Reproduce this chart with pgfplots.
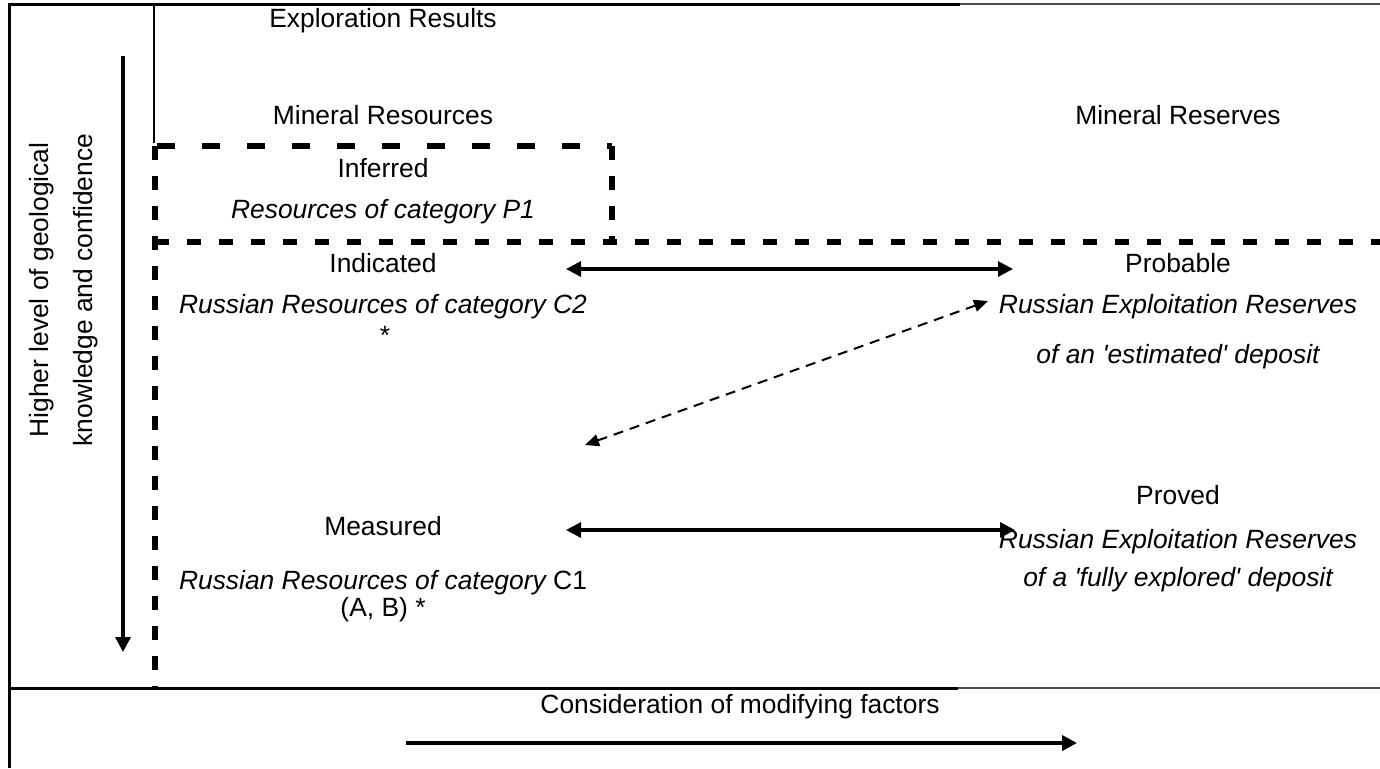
\documentclass[border=0pt]{standalone}
\usepackage{pgfplots}
\pgfplotsset{compat=1.18}
\usepackage{fontspec}
\setmainfont{Liberation Sans}[Ligatures=TeXOff]
\usetikzlibrary{arrows.meta}
\begin{document}
\fontsize{13.2}{15}\selectfont
\begin{tikzpicture}[font=\fontsize{13.2}{15}\selectfont]
\begin{axis}[
  width=690pt, height=384pt, scale only axis,
  xmin=0, xmax=1380, ymin=0, ymax=768, y dir=reverse,
  hide axis, clip=false,
]
% frame
\addplot[black, line width=1.5pt] coordinates {(9,768) (9,4) (960,4)};
\addplot[black!70, line width=1.1pt] coordinates {(960,4) (1380,4)};
\addplot[black, line width=1.5pt] coordinates {(9,688) (958,688)};
\addplot[black!70, line width=1.1pt] coordinates {(958,688) (1380,688)};
\addplot[black, line width=1pt] coordinates {(154,4) (154,143)};
% dashed box
\addplot[black, line width=2.8pt, dash pattern=on 9pt off 13.5pt] coordinates {(157,146) (612,146)};
\addplot[black, line width=2.8pt, dash pattern=on 7pt off 8pt] coordinates {(612,146) (612,242)};
\addplot[black, line width=2.8pt, dash pattern=on 7pt off 8pt] coordinates {(155,146) (155,688)};
\addplot[black, line width=2.8pt, dash pattern=on 7pt off 9pt] coordinates {(155,242) (1380,242)};
% arrows
\addplot[black, line width=1.6pt, {Triangle[length=7.5pt,width=7.5pt]}-{Triangle[length=7.5pt,width=7.5pt]}] coordinates {(566,269) (1013,269)};
\addplot[black, line width=1.6pt, {Triangle[length=7.5pt,width=7.5pt]}-{Triangle[length=7.5pt,width=7.5pt]}] coordinates {(566,530) (1015,530)};
\addplot[black, line width=1pt, dash pattern=on 5pt off 3.5pt, {Triangle[length=7pt,width=6pt]}-{Triangle[length=7pt,width=6pt]}] coordinates {(585,445) (988,301)};
\addplot[black, line width=1.6pt, -{Triangle[length=7.5pt,width=7.5pt]}] coordinates {(123,56) (123,652)};
\addplot[black, line width=1.8pt, -{Triangle[length=7.5pt,width=7.5pt]}] coordinates {(406,743) (1077,743)};
% texts
\node[font=\fontsize{13.2}{15}\selectfont] at (axis cs:383,21) {Exploration Results};
\node[font=\fontsize{13.2}{15}\selectfont] at (axis cs:383,115) {Mineral Resources};
\node[font=\fontsize{13.2}{15}\selectfont] at (axis cs:1178,115) {Mineral Reserves};
\node[font=\fontsize{13.2}{15}\selectfont] at (axis cs:383,168) {Inferred};
\node[font=\fontsize{13.2}{15}\selectfont] at (axis cs:383,212) {\itshape Resources of category P1};
\node[font=\fontsize{13.2}{15}\selectfont] at (axis cs:383,263) {Indicated};
\node[font=\fontsize{13.2}{15}\selectfont] at (axis cs:383,307) {\itshape Russian Resources of category C2};
\node[font=\fontsize{13.2}{15}\selectfont] at (axis cs:385,335) {*};
\node[font=\fontsize{13.2}{15}\selectfont] at (axis cs:1178,263) {Probable};
\node[font=\fontsize{13.2}{15}\selectfont] at (axis cs:1178,307) {\itshape Russian Exploitation Reserves};
\node[font=\fontsize{13.2}{15}\selectfont] at (axis cs:1178,357) {\itshape of an 'estimated' deposit};
\node[font=\fontsize{13.2}{15}\selectfont] at (axis cs:383,526) {Measured};
\node[font=\fontsize{13.2}{15}\selectfont] at (axis cs:383,583) {{\itshape Russian Resources of category} C1};
\node[font=\fontsize{13.2}{15}\selectfont] at (axis cs:383,610) {(A, B) *};
\node[font=\fontsize{13.2}{15}\selectfont] at (axis cs:1178,495) {Proved};
\node[font=\fontsize{13.2}{15}\selectfont] at (axis cs:1178,542) {\itshape Russian Exploitation Reserves};
\node[font=\fontsize{13.2}{15}\selectfont] at (axis cs:1178,580) {\itshape of a 'fully explored' deposit};
\node[font=\fontsize{13.2}{15}\selectfont] at (axis cs:740,707) {Consideration of modifying factors};
\node[font=\fontsize{13.2}{15}\selectfont, rotate=90] at (axis cs:42,290) {Higher level of geological};
\node[font=\fontsize{13.2}{15}\selectfont, rotate=90] at (axis cs:86,290) {knowledge and confidence};
\end{axis}
\pgfresetboundingbox
\path (current axis.south west) rectangle (current axis.north east);
\end{tikzpicture}
\end{document}
